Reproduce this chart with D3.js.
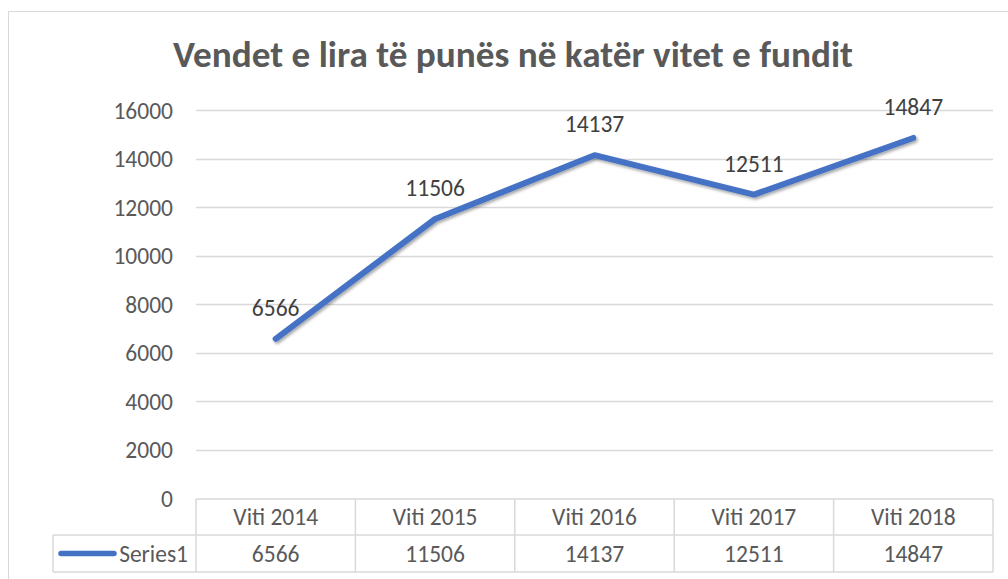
<!DOCTYPE html>
<html>
<head>
<meta charset="utf-8">
<script src="https://cdn.jsdelivr.net/npm/d3@7"></script>
<style>
html,body{margin:0;padding:0;background:#fff;}
svg{display:block;}
text{font-family:Calibri,Carlito,"Open Sans",sans-serif;}
</style>
</head>
<body>
<svg id="chart" width="1008" height="579"></svg>
<script>
const title = "Vendet e lira të punës në katër vitet e fundit";
const categories = ["Viti 2014","Viti 2015","Viti 2016","Viti 2017","Viti 2018"];
const seriesName = "Series1";
const values = [6566, 11506, 14137, 12511, 14847];
const yTicks = [0,2000,4000,6000,8000,10000,12000,14000,16000];

const svg = d3.select("#chart");
const plotLeft = 196, plotRight = 993, plotTop = 110, plotBottom = 498;
const rowH = 37;
const tableTop = plotBottom + 1;
const legendLeft = 53;
const fs = "23.5px";

const defs = svg.append("defs");
const f = defs.append("filter").attr("id","shadow").attr("x","-10%").attr("y","-10%").attr("width","120%").attr("height","130%");
f.append("feDropShadow").attr("dx",1.5).attr("dy",2).attr("stdDeviation",1.5).attr("flood-color","#000").attr("flood-opacity",0.35);

// chart border
svg.append("rect").attr("x",8.5).attr("y",11.5).attr("width",1020).attr("height",600)
  .attr("fill","none").attr("stroke","#d9d9d9").attr("stroke-width",1);

const x = d3.scaleBand().domain(categories).range([plotLeft, plotRight]);
const y = d3.scaleLinear().domain([0,16000]).range([plotBottom, plotTop]);

// gridlines
svg.append("g").selectAll("line").data(yTicks.filter(d=>d>0)).join("line")
  .attr("x1",plotLeft).attr("x2",plotRight)
  .attr("y1",d=>Math.round(y(d))+0.5).attr("y2",d=>Math.round(y(d))+0.5)
  .attr("stroke","#d9d9d9").attr("stroke-width",1.3);

// y axis labels
const yAxis = d3.axisLeft(y).tickValues(yTicks).tickSize(0).tickPadding(0).tickFormat(d3.format("d"));
const yg = svg.append("g").attr("transform",`translate(173,0)`).call(yAxis);
yg.select(".domain").remove();
yg.selectAll("text").attr("fill","#595959").style("font-size",fs).attr("dy","0.35em");

// title
const t = svg.append("text").attr("x",513).attr("y",67).attr("text-anchor","middle")
  .attr("fill","#595959").attr("font-weight","bold").style("font-size","32px").text(title);
const tw = t.node().getComputedTextLength();
t.style("font-size",(32*680/tw).toFixed(2)+"px");

// data table
const tg = svg.append("g").attr("stroke","#d9d9d9").attr("stroke-width",1.5).attr("fill","none");
const r1 = tableTop, r2 = tableTop + rowH - 1, r3 = tableTop + 2*rowH - 1;
tg.append("line").attr("x1",plotLeft).attr("x2",plotRight).attr("y1",r1).attr("y2",r1);
tg.append("line").attr("x1",legendLeft).attr("x2",plotRight).attr("y1",r2).attr("y2",r2);
tg.append("line").attr("x1",legendLeft).attr("x2",plotRight).attr("y1",r3).attr("y2",r3);
tg.append("line").attr("x1",legendLeft).attr("x2",legendLeft).attr("y1",r2).attr("y2",r3);
tg.selectAll("line.v").data(categories).join("line").attr("class","v")
  .attr("x1",d=>x(d)).attr("x2",d=>x(d)).attr("y1",r1).attr("y2",r3);
tg.append("line").attr("x1",plotRight).attr("x2",plotRight).attr("y1",r1).attr("y2",r3);

svg.append("g").selectAll("text").data(categories).join("text")
  .attr("x",d=>x(d)+x.bandwidth()/2).attr("y",(r1+r2)/2).attr("dy","0.35em")
  .attr("text-anchor","middle").attr("fill","#595959").style("font-size",fs).text(d=>d);
svg.append("g").selectAll("text").data(values).join("text")
  .attr("x",(d,i)=>x(categories[i])+x.bandwidth()/2).attr("y",(r2+r3)/2).attr("dy","0.35em")
  .attr("text-anchor","middle").attr("fill","#595959").style("font-size",fs).text(d=>d);

// legend key
svg.append("line").attr("x1",61).attr("x2",114).attr("y1",(r2+r3)/2).attr("y2",(r2+r3)/2)
  .attr("stroke","#4472c4").attr("stroke-width",5.5).attr("stroke-linecap","round");
svg.append("text").attr("x",188).attr("y",(r2+r3)/2).attr("dy","0.35em").attr("text-anchor","end")
  .attr("fill","#595959").style("font-size",fs).text(seriesName);

// line
const line = d3.line().x((d,i)=>x(categories[i])+x.bandwidth()/2).y(d=>y(d));
svg.append("path").datum(values).attr("d",line).attr("fill","none")
  .attr("stroke","#4472c4").attr("stroke-width",6).attr("stroke-linejoin","round").attr("stroke-linecap","round")
  .attr("filter","url(#shadow)");

// data labels
svg.append("g").selectAll("text").data(values).join("text")
  .attr("x",(d,i)=>x(categories[i])+x.bandwidth()/2).attr("y",d=>y(d)-31).attr("dy","0.35em")
  .attr("text-anchor","middle").attr("fill","#404040").style("font-size",fs).text(d=>d);
</script>
</body>
</html>
